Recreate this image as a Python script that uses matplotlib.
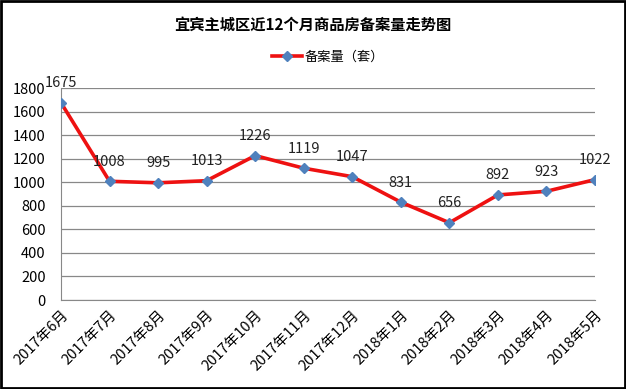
import matplotlib
matplotlib.use('Agg')
import matplotlib.pyplot as plt
from matplotlib.patches import Rectangle

plt.rcParams['font.family'] = ['Noto Sans CJK SC', 'DejaVu Sans']

months = ['2017年6月', '2017年7月', '2017年8月', '2017年9月', '2017年10月', '2017年11月',
          '2017年12月', '2018年1月', '2018年2月', '2018年3月', '2018年4月', '2018年5月']
counts = [1675, 1008, 995, 1013, 1226, 1119, 1047, 831, 656, 892, 923, 1022]
yticks = [0, 200, 400, 600, 800, 1000, 1200, 1400, 1600, 1800]

fig = plt.figure(figsize=(6.26, 3.89), dpi=100)
ax = fig.add_axes([61 / 626, 1 - 300 / 389, 534 / 626, 212 / 389])

x = list(range(len(months)))
ax.plot(x, counts, color='#ee1111', linewidth=2.6, marker='D', markersize=5.5,
        markerfacecolor='#4f81bd', markeredgecolor='#4f81bd', label='备案量（套）', zorder=3)

for xi, v in zip(x, counts):
    ax.annotate(str(v), (xi, v), xytext=(0, 9), textcoords='offset points',
                ha='center', va='bottom', fontsize=10.5, color='#222222')

ax.set_xlim(0, len(months) - 1)
ax.set_ylim(0, 1800)
ax.set_yticks(yticks)
ax.yaxis.grid(True, color='#888888', linewidth=0.9)
ax.set_axisbelow(True)
ax.set_xticks(x)
ax.set_xticklabels(months, rotation=45, ha='right', rotation_mode='anchor', fontsize=10.5)
ax.tick_params(axis='x', length=0, labelsize=10.5, pad=6)
ax.tick_params(axis='y', length=0, labelsize=10.5, pad=11)
for s in ['top', 'right']:
    ax.spines[s].set_visible(False)
for s in ['left', 'bottom']:
    ax.spines[s].set_color('#888888')

fig.text(0.5, 1 - 25 / 389, '宜宾主城区近12个月商品房备案量走势图', ha='center', va='center',
         fontsize=11, fontweight='bold')
leg = ax.legend(loc='center', bbox_to_anchor=(0.5, 1 + (88 - 57) / 212), frameon=False,
                fontsize=9.5, handlelength=2.3, handletextpad=0.2)

fig.patches.append(Rectangle((0.002, 0.003), 0.996, 0.994, transform=fig.transFigure,
                             fill=False, edgecolor='black', linewidth=2))

fig.savefig('out.png', dpi=100)
